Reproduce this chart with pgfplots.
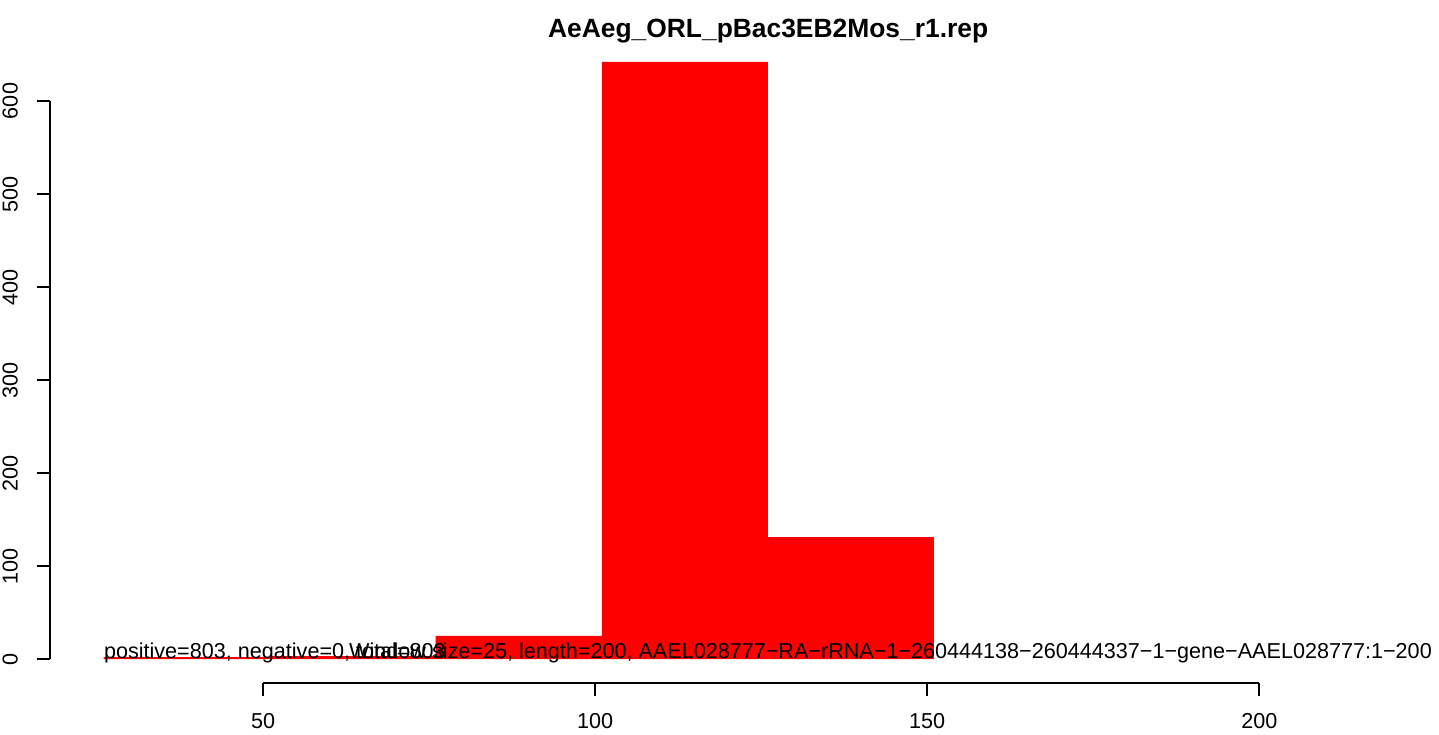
\documentclass[border=0pt]{standalone}
\usepackage{fontspec}
\setmainfont{Liberation Sans}
\usepackage{pgfplots}
\pgfplotsset{compat=1.18}
\begin{document}
\begin{tikzpicture}
\begin{axis}[
  scale only axis,
  width=680pt, height=322.5pt,
  xmin=17.93, xmax=222.69,
  ymin=-25.81, ymax=667.74,
  clip=false,
  axis line style={draw=none},
  tick align=outside,
  major tick length=6.5pt,
  xtick={50,100,150,200},
  ytick={0,100,200,300,400,500,600},
  xtick pos=bottom, ytick pos=left,
  tick style={black, line width=0.9pt},
  /pgf/number format/assume math mode=true,
  ticklabel style={font=\fontsize{10.8}{12}\selectfont},
  yticklabel style={rotate=90, anchor=south},
  yticklabel shift=6pt,
  xticklabel shift=5pt,
]
\addplot[ybar interval, fill=red, draw=none] coordinates {
  (26,2) (51,3) (76,25) (101,642) (126,131) (151,131)
};
\draw[line width=0.9pt] (axis cs:50,-25.81) -- (axis cs:200,-25.81);
\draw[line width=0.9pt] (axis cs:17.93,0) -- (axis cs:17.93,600);
\node[anchor=base west, inner sep=0pt, font=\fontsize{10.8}{12}\selectfont] at (axis cs:26,1) {positive=803, negative=0, total=803};
\node[anchor=base east, inner sep=0pt, font=\fontsize{10.8}{12}\selectfont] at (axis cs:226.05,1) {Window size=25, length=200, AAEL028777−RA−rRNA−1−260444138−260444337−1−gene−AAEL028777:1−200};
\node[anchor=base, inner sep=0pt, font=\fontsize{13.2}{15}\selectfont\bfseries] at (axis cs:126.05,668.8) {AeAeg\_ORL\_pBac3EB2Mos\_r1.rep};
\coordinate (BL) at (axis cs:10.40,-80.65);
\coordinate (TR) at (axis cs:227.05,708.6);
\end{axis}
\pgfresetboundingbox
\path (BL) rectangle (TR);
\end{tikzpicture}
\end{document}
